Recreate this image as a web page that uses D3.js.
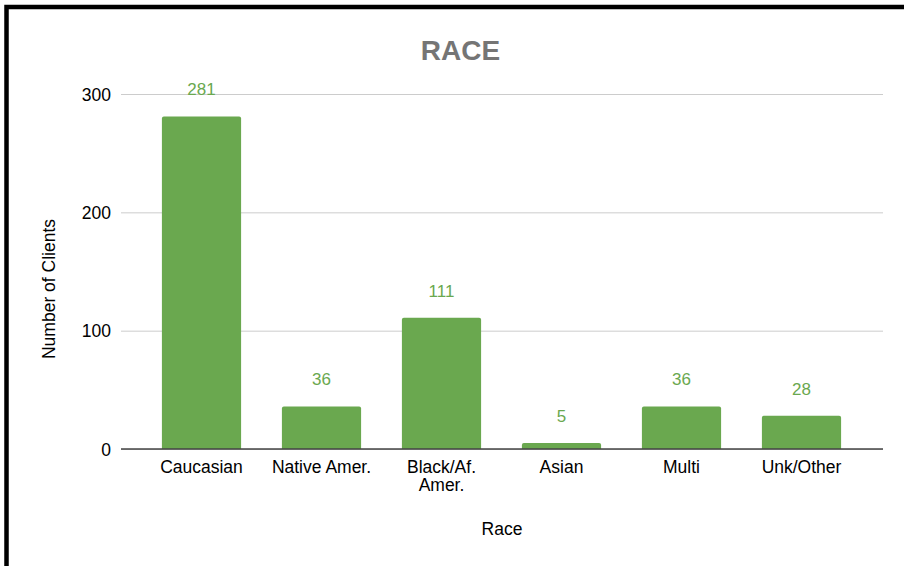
<!DOCTYPE html>
<html>
<head>
<meta charset="utf-8">
<script src="https://cdn.jsdelivr.net/npm/d3@7"></script>
<style>
  html, body { margin: 0; padding: 0; background: #fff; }
  svg { display: block; font-family: "Liberation Sans", Arial, Helvetica, sans-serif; }
</style>
</head>
<body>
<svg id="chart" width="904" height="566"></svg>
<script>
// Client counts by race
const categories = ["Caucasian", "Native Amer.", "Black/Af. Amer.", "Asian", "Multi", "Unk/Other"];
const categoryLines = [["Caucasian"], ["Native Amer."], ["Black/Af.", "Amer."], ["Asian"], ["Multi"], ["Unk/Other"]];
const clients = [281, 36, 111, 5, 36, 28];
const yTicks = [0, 100, 200, 300];

const svg = d3.select("#chart");
const W = 904, H = 566;
const plot = { left: 121, right: 883, top: 94, bottom: 449 };
const green = "#6aa84f";

// Frame around the chart
svg.append("rect")
  .attr("x", 6.5).attr("y", 7)
  .attr("width", W + 20).attr("height", H + 20)
  .attr("fill", "none").attr("stroke", "#000").attr("stroke-width", 4.5);

const x = d3.scaleBand()
  .domain(categories)
  .range([141.5, 861.5])
  .paddingInner(0.34)
  .paddingOuter(0.17);

const y = d3.scaleLinear()
  .domain([0, 300])
  .range([plot.bottom, plot.top]);

// Horizontal gridlines and tick labels
const yAxis = d3.axisLeft(y)
  .tickValues(yTicks)
  .tickSize(-(plot.right - plot.left))
  .tickPadding(10)
  .tickFormat(d3.format("d"));

const gy = svg.append("g")
  .attr("transform", `translate(${plot.left},0)`)
  .call(yAxis);
gy.select(".domain").remove();
gy.selectAll(".tick line").attr("stroke", "#cccccc").attr("stroke-width", 1);
gy.selectAll(".tick text")
  .attr("fill", "#000")
  .style("font-size", "17.5px")
  .attr("dy", "0.36em");

// Bars with softly rounded tops
const r = 2;
svg.append("g").selectAll("path")
  .data(categories)
  .join("path")
  .attr("fill", green)
  .attr("d", (c, i) => {
    const x0 = x(c), x1 = x(c) + x.bandwidth();
    const yt = y(clients[i]), yb = y(0);
    const rr = Math.min(r, (yb - yt) / 2);
    return `M${x0},${yb}V${yt + rr}Q${x0},${yt} ${x0 + rr},${yt}` +
           `H${x1 - rr}Q${x1},${yt} ${x1},${yt + rr}V${yb}Z`;
  });

// Baseline
svg.append("line")
  .attr("x1", plot.left).attr("x2", plot.right)
  .attr("y1", y(0)).attr("y2", y(0))
  .attr("stroke", "#444").attr("stroke-width", 1.5);

// Value labels
svg.append("g").selectAll("text")
  .data(categories)
  .join("text")
  .attr("x", c => x(c) + x.bandwidth() / 2)
  .attr("y", (c, i) => y(clients[i]) - 21)
  .attr("text-anchor", "middle")
  .attr("fill", green)
  .style("font-size", "17px")
  .text((c, i) => clients[i]);

// Category labels (one text element per line)
const catG = svg.append("g");
categories.forEach((c, i) => {
  categoryLines[i].forEach((line, j) => {
    catG.append("text")
      .attr("x", x(c) + x.bandwidth() / 2)
      .attr("y", 473 + j * 18)
      .attr("text-anchor", "middle")
      .attr("fill", "#000")
      .style("font-size", "17.5px")
      .text(line);
  });
});

// Title
svg.append("text")
  .attr("x", 460.5).attr("y", 60)
  .attr("text-anchor", "middle")
  .attr("fill", "#757575")
  .style("font-size", "28px")
  .style("font-weight", "bold")
  .text("RACE");

// Axis titles
svg.append("text")
  .attr("x", (plot.left + plot.right) / 2).attr("y", 535)
  .attr("text-anchor", "middle")
  .attr("fill", "#000")
  .style("font-size", "17.5px")
  .text("Race");

svg.append("text")
  .attr("transform", "translate(55,289) rotate(-90)")
  .attr("text-anchor", "middle")
  .attr("fill", "#000")
  .style("font-size", "17.5px")
  .text("Number of Clients");
</script>
</body>
</html>
